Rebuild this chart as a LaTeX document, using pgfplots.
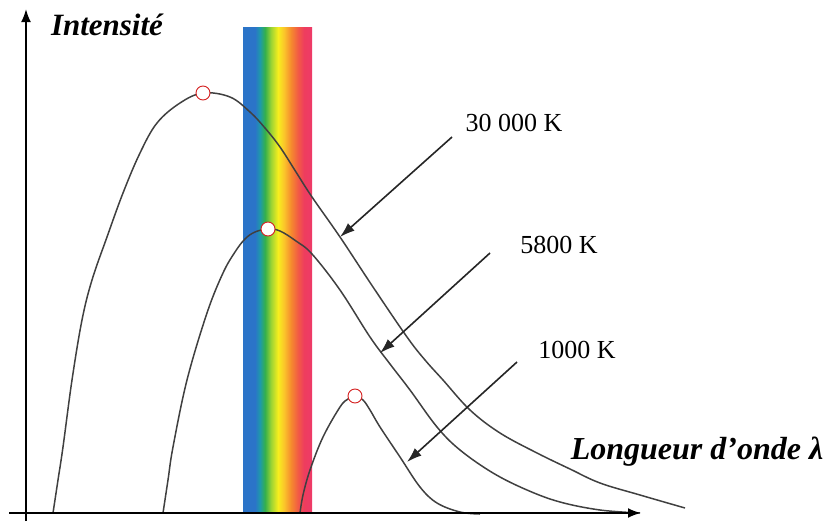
\documentclass[border=0pt]{standalone}
\usepackage{pgfplots}
\pgfplotsset{compat=1.18}
\usepackage{fontspec}
\setmainfont{Liberation Serif}
\usetikzlibrary{arrows.meta}
\definecolor{rbA}{HTML}{2B74C8}
\definecolor{rbB}{HTML}{1E9AA8}
\definecolor{rbC}{HTML}{35B04A}
\definecolor{rbD}{HTML}{9AD334}
\definecolor{rbE}{HTML}{F7EE1E}
\definecolor{rbF}{HTML}{FBC52A}
\definecolor{rbG}{HTML}{F58A2E}
\definecolor{rbH}{HTML}{F25A45}
\definecolor{rbI}{HTML}{EE3D5E}
\definecolor{rbJ}{HTML}{EE3A68}
\definecolor{curvecol}{HTML}{404040}
\definecolor{peakred}{HTML}{D42020}
\pgfdeclarehorizontalshading{rainbow}{100bp}{color(0bp)=(rbA); color(25bp)=(rbA); color(33.7bp)=(rbA); color(37.3bp)=(rbB); color(41bp)=(rbC); color(45.3bp)=(rbD); color(50.4bp)=(rbE); color(54.7bp)=(rbF); color(59.8bp)=(rbG); color(64.9bp)=(rbH); color(69.2bp)=(rbI); color(75bp)=(rbJ); color(100bp)=(rbJ)}
\begin{document}
\begin{tikzpicture}
\begin{axis}[
  scale only axis, width=832pt, height=522pt,
  xmin=0, xmax=832, ymin=0, ymax=522, y dir=reverse,
  axis line style={draw=none}, ticks=none, clip=false,
]
% visible spectrum band
\addplot[draw=none, shade, shading=rainbow] coordinates {(243,27) (312,27) (312,513) (243,513)} -- cycle;
% 30 000 K
\addplot[curvecol, line width=1.5pt, smooth, tension=0.6] coordinates {
(53,513) (58,480) (63,447) (72,380) (82,320) (92,280) (107,237) (123,193) (140,153) (157,123) (180,103) (203,93) (230,97) (250,112) (265,128) (280,147) (296,172) (312,197) (340,237) (373,287) (407,337) (425,360) (443,380) (470,410) (500,433) (537,453) (570,469) (600,483) (640,495) (685,508)};
% 5800 K
\addplot[curvecol, line width=1.5pt, smooth, tension=0.6] coordinates {
(163,513) (168,480) (173,447) (187,380) (207,313) (223,273) (235,252) (245,239) (255,232) (268,229) (280,231) (296,241) (312,254) (340,290) (370,337) (390,364) (410,390) (437,427) (460,450) (493,473) (527,490) (560,502) (600,510) (640,513)};
% 1000 K
\addplot[curvecol, line width=1.5pt, smooth, tension=0.6] coordinates {
(300,513) (303,495) (310,470) (323,437) (340,407) (348,399) (355,396) (363,400) (370,410) (380,427) (400,457) (420,487) (437,503) (460,512) (480,514)};
% axes
\addplot[black, line width=2pt, -{Latex[length=13pt,width=10pt]}] coordinates {(26,521) (26,9)};
\addplot[black, line width=2pt, -{Latex[length=13pt,width=10pt]}] coordinates {(9,513) (641,513)};
% peaks
\addplot[only marks, mark=*, mark size=7pt, mark options={fill=white, draw=peakred, line width=0.9pt}] coordinates {(203,93) (268,229) (355,396)};
% annotation arrows
\addplot[black!85, line width=1.6pt, -{Latex[length=15pt,width=10pt]}] coordinates {(452,137) (340,237)};
\addplot[black!85, line width=1.6pt, -{Latex[length=15pt,width=10pt]}] coordinates {(490,253) (380,353)};
\addplot[black!85, line width=1.6pt, -{Latex[length=15pt,width=10pt]}] coordinates {(517,362) (407,462)};
% labels
\node[font=\fontsize{31}{31}\selectfont\bfseries\itshape] at (axis cs:107,25) {Intensité};
\node[font=\fontsize{32}{32}\selectfont\bfseries\itshape] at (axis cs:697,452) {Longueur d’onde λ};
\node[font=\fontsize{26}{26}\selectfont] at (axis cs:514,123) {30 000 K};
\node[font=\fontsize{26}{26}\selectfont] at (axis cs:559,245) {5800 K};
\node[font=\fontsize{26}{26}\selectfont] at (axis cs:577,350) {1000 K};
\end{axis}
\end{tikzpicture}
\end{document}
